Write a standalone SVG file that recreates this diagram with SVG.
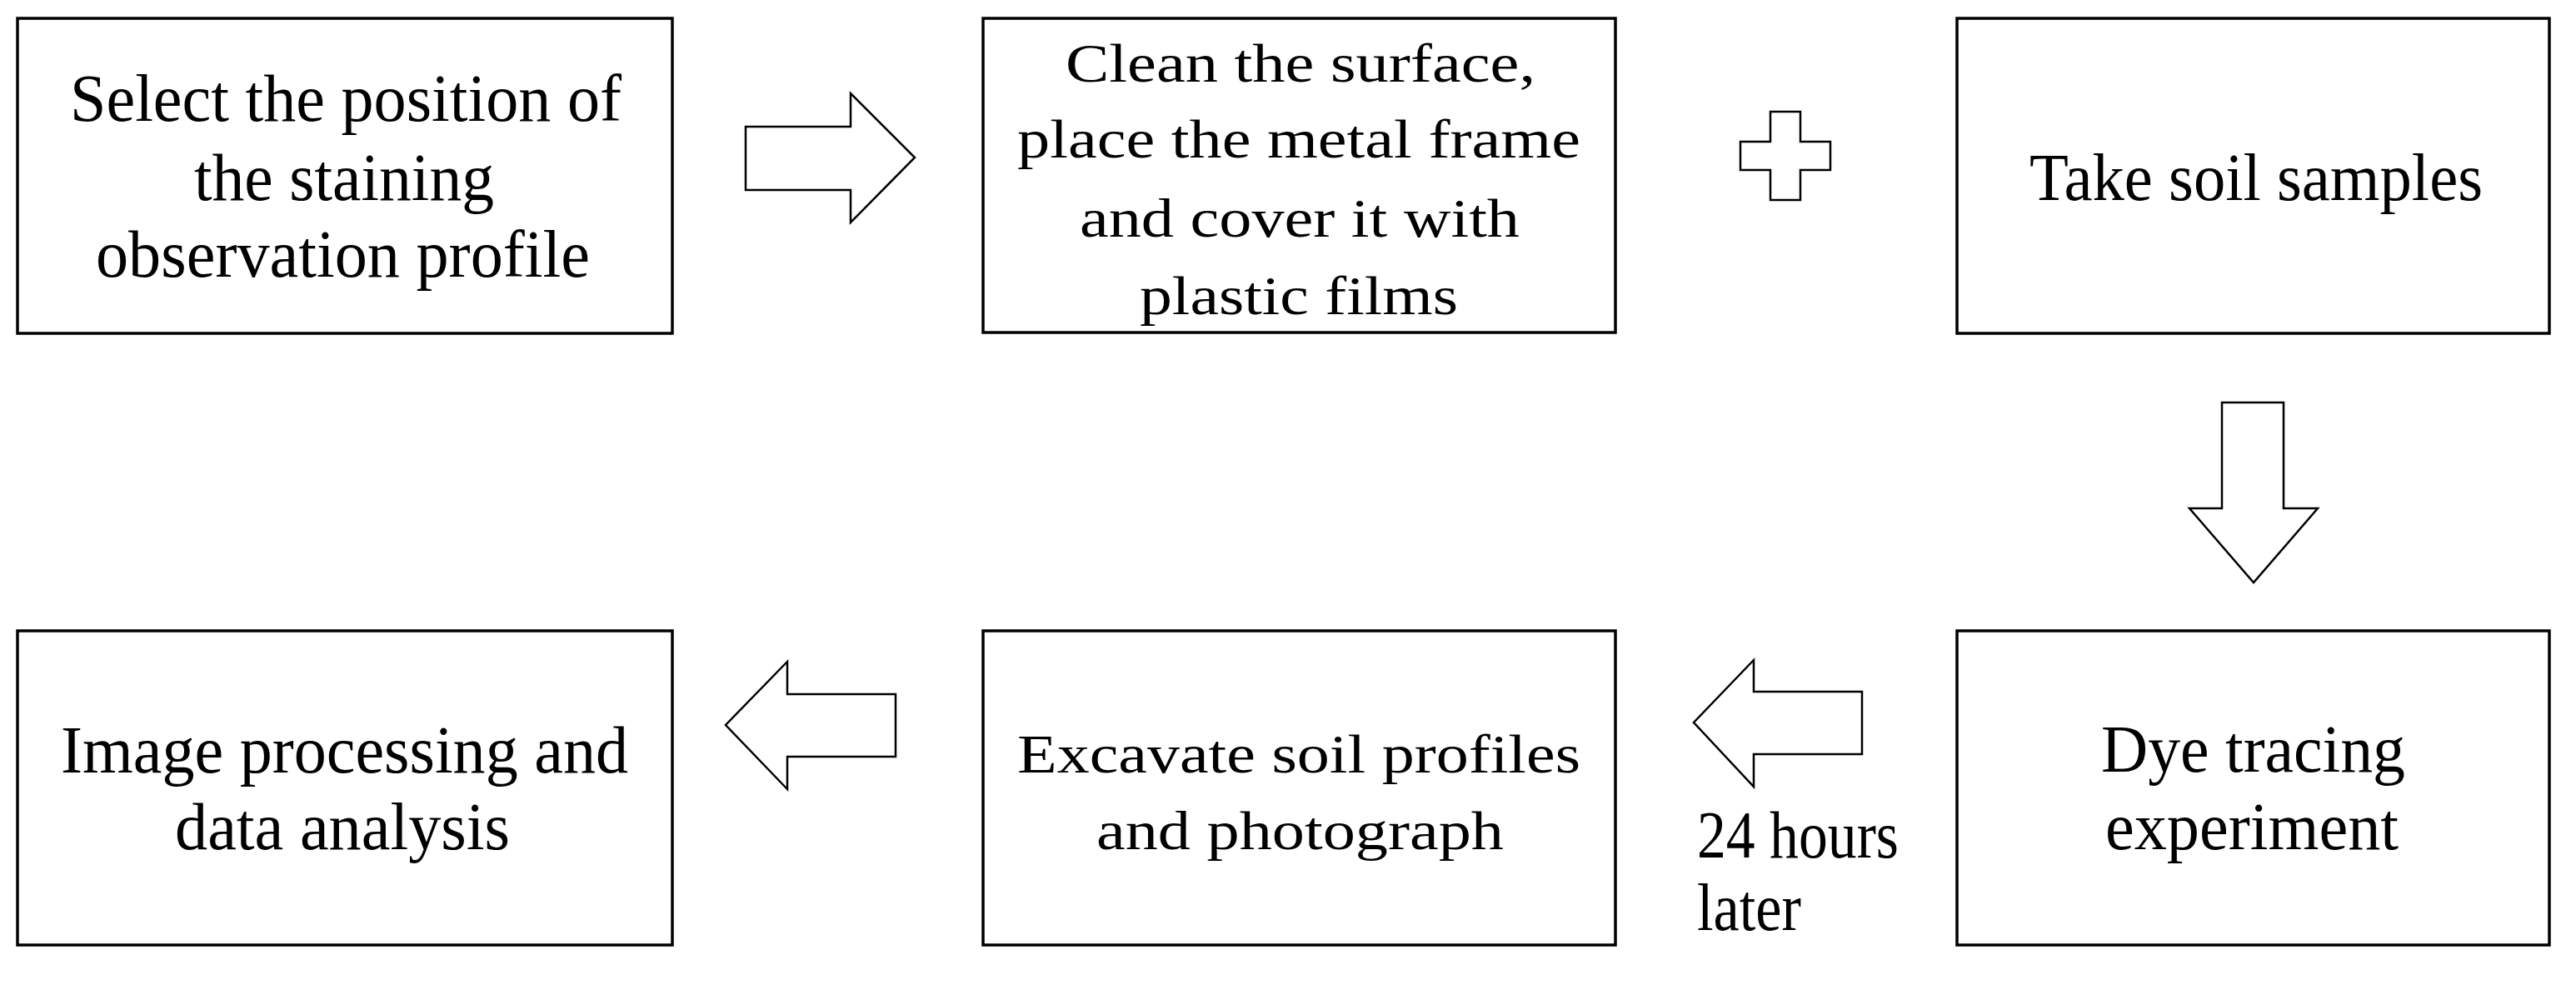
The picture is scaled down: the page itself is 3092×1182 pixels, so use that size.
<svg xmlns="http://www.w3.org/2000/svg" width="3092" height="1182" viewBox="0 0 3092 1182">
<style>
.box{fill:#fff;stroke:#000;stroke-width:3.5}
.arr{fill:#fff;stroke:#000;stroke-width:2.5;stroke-linejoin:miter}
text{font-family:"Liberation Serif","Times New Roman",serif;font-size:80px;fill:#000}
.w{font-size:66px}
</style>
<rect width="3092" height="1182" fill="#fff"/>
<g id="n1"><rect class="box" x="21" y="22" width="786" height="378"/>
<text x="84" y="145" textLength="662" lengthAdjust="spacingAndGlyphs">Select the position of</text>
<text x="233" y="240" textLength="360" lengthAdjust="spacingAndGlyphs">the staining</text>
<text x="115" y="332" textLength="593" lengthAdjust="spacingAndGlyphs">observation profile</text></g>
<g id="n2"><rect class="box" x="1180" y="22" width="759" height="377"/>
<text class="w" x="1279" y="98" textLength="564" lengthAdjust="spacingAndGlyphs">Clean the surface,</text>
<text class="w" x="1221" y="189" textLength="676" lengthAdjust="spacingAndGlyphs">place the metal frame</text>
<text class="w" x="1296" y="284" textLength="528" lengthAdjust="spacingAndGlyphs">and cover it with</text>
<text class="w" x="1368" y="377" textLength="382" lengthAdjust="spacingAndGlyphs">plastic films</text></g>
<g id="n3"><rect class="box" x="2349" y="22" width="711" height="378"/>
<text x="2436" y="240" textLength="544" lengthAdjust="spacingAndGlyphs">Take soil samples</text></g>
<g id="n4"><rect class="box" x="2349" y="757" width="711" height="377"/>
<text x="2522" y="926" textLength="365" lengthAdjust="spacingAndGlyphs">Dye tracing</text>
<text x="2527" y="1019" textLength="352" lengthAdjust="spacingAndGlyphs">experiment</text></g>
<g id="n5"><rect class="box" x="1180" y="757" width="759" height="377"/>
<text class="w" x="1221" y="927" textLength="676" lengthAdjust="spacingAndGlyphs">Excavate soil profiles</text>
<text class="w" x="1316" y="1019" textLength="489" lengthAdjust="spacingAndGlyphs">and photograph</text></g>
<g id="n6"><rect class="box" x="21" y="757" width="786" height="377"/>
<text x="73" y="927" textLength="681" lengthAdjust="spacingAndGlyphs">Image processing and</text>
<text x="210" y="1019" textLength="402" lengthAdjust="spacingAndGlyphs">data analysis</text></g>
<g id="connectors">
<polygon class="arr" points="895,152 1021,152 1021,112 1098,189 1021,267 1021,228 895,228"/>
<polygon class="arr" points="2089,170 2125,170 2125,134 2161,134 2161,170 2197,170 2197,204 2161,204 2161,240 2125,240 2125,204 2089,204"/>
<polygon class="arr" points="2667,483 2741,483 2741,610 2782,610 2705,699 2628,610 2667,610"/>
<polygon class="arr" points="2235,830 2105,830 2105,792 2033,867 2105,944 2105,905 2235,905"/>
<polygon class="arr" points="1075,833 945,833 945,794 871,870 945,947 945,908 1075,908"/>
<text x="2037" y="1029" textLength="242" lengthAdjust="spacingAndGlyphs">24 hours</text>
<text x="2037" y="1116" textLength="125" lengthAdjust="spacingAndGlyphs">later</text>
</g>
</svg>
